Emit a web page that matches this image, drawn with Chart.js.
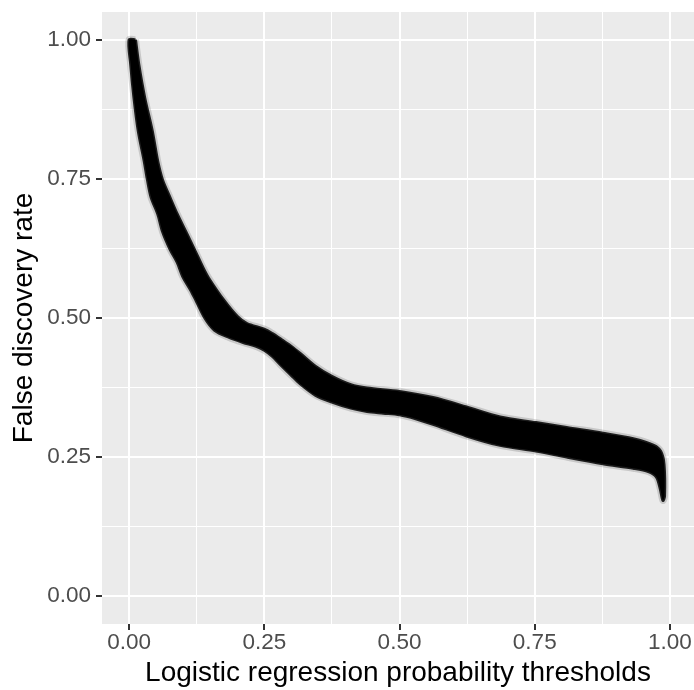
<!DOCTYPE html>
<html>
<head>
<meta charset="utf-8">
<script src="https://cdn.jsdelivr.net/npm/chart.js@4.4.0/dist/chart.umd.min.js"></script>
<style>
  html, body { margin: 0; padding: 0; background: #fff; }
  canvas { display: block; }
</style>
</head>
<body>
<canvas id="chart" width="694" height="690"></canvas>
<script>
// upper / right edge of the band of FDR curves
const upperX = [0.012, 0.018, 0.029, 0.043, 0.053, 0.062, 0.076, 0.089, 0.105, 0.121, 0.137, 0.147, 0.176, 0.201,
  0.218, 0.250, 0.265, 0.282, 0.300, 0.318, 0.345, 0.375, 0.410, 0.440, 0.500, 0.562, 0.624, 0.686, 0.752, 0.809,
  0.876, 0.932, 0.970, 0.983, 0.989, 0.990];
const upperY = [1.000, 0.956, 0.896, 0.836, 0.782, 0.748, 0.716, 0.687, 0.655, 0.623, 0.590, 0.572, 0.531, 0.502,
  0.490, 0.480, 0.472, 0.461, 0.449, 0.435, 0.413, 0.395, 0.380, 0.374, 0.368, 0.357, 0.340, 0.322, 0.312, 0.303,
  0.293, 0.283, 0.271, 0.260, 0.237, 0.180];

// lower / left edge of the band
const lowerX = [0.000, 0.003, 0.009, 0.017, 0.028, 0.034, 0.041, 0.053, 0.062, 0.076, 0.089, 0.099, 0.114, 0.124,
  0.140, 0.158, 0.185, 0.211, 0.235, 0.250, 0.265, 0.279, 0.300, 0.316, 0.345, 0.375, 0.410, 0.440, 0.470, 0.500,
  0.530, 0.562, 0.624, 0.686, 0.752, 0.809, 0.876, 0.932, 0.960, 0.975, 0.982, 0.987];
const lowerY = [1.000, 0.956, 0.896, 0.836, 0.782, 0.748, 0.716, 0.687, 0.655, 0.623, 0.600, 0.575, 0.550, 0.531,
  0.500, 0.478, 0.465, 0.456, 0.449, 0.442, 0.431, 0.417, 0.397, 0.382, 0.361, 0.349, 0.338, 0.332, 0.329, 0.326,
  0.319, 0.309, 0.288, 0.271, 0.261, 0.250, 0.238, 0.230, 0.224, 0.214, 0.193, 0.172];

const xMajor = [0, 0.25, 0.5, 0.75, 1];
const xMinor = [0.125, 0.375, 0.625, 0.875];
const yMajor = [0, 0.25, 0.5, 0.75, 1];
const yMinor = [0.125, 0.375, 0.625, 0.875];

const FONT = "'Liberation Sans', Arial, Helvetica, sans-serif";

function bandOutline() {
  const pts = upperX.map((x, i) => ({ x: x, y: upperY[i] }));
  for (let i = lowerX.length - 1; i >= 0; i--) {
    pts.push({ x: lowerX[i], y: lowerY[i] });
  }
  pts.push(pts[0]);
  return pts;
}

// ggplot-like grey panel
const panelBg = {
  id: "panelBg",
  beforeDraw(chart) {
    const { ctx, chartArea: a } = chart;
    ctx.save();
    ctx.fillStyle = "#EBEBEB";
    ctx.fillRect(a.left, a.top, a.right - a.left, a.bottom - a.top);
    ctx.restore();
  },
};

function axis(major, minor, min, max, title, size, tickPad, titlePad) {
  const isMajor = (v) => major.includes(v);
  return {
    type: "linear",
    min: min,
    max: max,
    afterBuildTicks(scale) {
      scale.ticks = major.concat(minor).sort((a, b) => a - b).map((v) => ({ value: v }));
    },
    afterFit(scale) {
      if (scale.isHorizontal()) {
        scale.height = size;
      } else {
        scale.width = size;
        scale.paddingTop = 0;
        scale.paddingBottom = 0;
      }
    },
    border: { display: false },
    grid: {
      color: "#FFFFFF",
      lineWidth: (c) => (c.tick && isMajor(c.tick.value) ? 2 : 1),
      drawTicks: true,
      tickLength: 6,
      tickWidth: 2,
      tickColor: (c) => (c.tick && isMajor(c.tick.value) ? "#333333" : "rgba(0,0,0,0)"),
    },
    ticks: {
      autoSkip: false,
      maxRotation: 0,
      padding: tickPad,
      color: "#4D4D4D",
      font: { family: FONT, size: 22.5 },
      callback: (v) => (isMajor(v) ? v.toFixed(2) : ""),
    },
    title: {
      display: true,
      text: title,
      color: "#000000",
      font: { family: FONT, size: 28 },
      padding: titlePad,
    },
  };
}

new Chart(document.getElementById("chart").getContext("2d"), {
  type: "line",
  data: {
    datasets: [
      {
        label: "fringe",
        data: bandOutline(),
        fill: false,
        borderColor: "rgba(0,0,0,0.15)",
        borderWidth: 7,
        pointRadius: 0,
        tension: 0.3,
      },
      {
        label: "FDR",
        data: bandOutline(),
        fill: "shape",
        backgroundColor: "#000000",
        borderColor: "rgba(0,0,0,0.85)",
        borderWidth: 3,
        pointRadius: 0,
        tension: 0.3,
      },
    ],
  },
  options: {
    responsive: false,
    animation: false,
    devicePixelRatio: 1,
    layout: { padding: { top: 12, right: 0, left: 0, bottom: 0 } },
    plugins: {
      legend: { display: false },
      tooltip: { enabled: false },
    },
    scales: {
      x: axis(xMajor, xMinor, -0.05, 1.0444, "Logistic regression probability thresholds", 66, -1, { top: 0, bottom: 0 }),
      y: axis(yMajor, yMinor, -0.05, 1.05, "False discovery rate", 102, 5, { top: 7, bottom: 0 }),
    },
  },
  plugins: [panelBg],
});
</script>
</body>
</html>
